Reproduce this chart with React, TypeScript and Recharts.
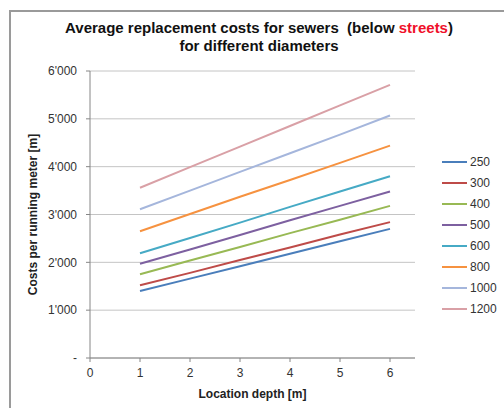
import React from 'react'
import { LineChart, Line, XAxis, YAxis, CartesianGrid, Legend, Label } from 'recharts'

// location depth [m]
const DEPTHS = [1, 2, 3, 4, 5, 6]

// cost per running meter by pipe diameter
const D250 = [1400, 1660, 1920, 2180, 2440, 2700]
const D300 = [1520, 1780, 2050, 2310, 2580, 2840]
const D400 = [1750, 2040, 2320, 2610, 2890, 3180]
const D500 = [1970, 2270, 2570, 2880, 3180, 3480]
const D600 = [2190, 2510, 2830, 3160, 3480, 3800]
const D800 = [2650, 3010, 3370, 3720, 4080, 4440]
const D1000 = [3110, 3500, 3890, 4280, 4670, 5070]
const D1200 = [3560, 3990, 4420, 4850, 5280, 5710]

const X_TICKS = [0, 1, 2, 3, 4, 5, 6]
const Y_TICKS = [0, 1000, 2000, 3000, 4000, 5000, 6000]

const SERIES = [
  { key: 'd250', name: '250', values: D250, color: '#4a7ebb' },
  { key: 'd300', name: '300', values: D300, color: '#be4b48' },
  { key: 'd400', name: '400', values: D400, color: '#98b954' },
  { key: 'd500', name: '500', values: D500, color: '#7d60a0' },
  { key: 'd600', name: '600', values: D600, color: '#46aac5' },
  { key: 'd800', name: '800', values: D800, color: '#f69240' },
  { key: 'd1000', name: '1000', values: D1000, color: '#a5b6dc' },
  { key: 'd1200', name: '1200', values: D1200, color: '#d9a0a6' },
]

const data = DEPTHS.map((depth, i) => {
  const row: Record<string, number> = { depth }
  SERIES.forEach((s) => {
    row[s.key] = s.values[i]
  })
  return row
})

const FONT = 'Arial, "Liberation Sans", sans-serif'
const TICK = { fontSize: 12, fill: '#333', fontFamily: FONT }
const AXIS = '#868686'

const fmtCost = (v: number) => (v === 0 ? '-' : `${v / 1000}'000`)

const seriesIndex = (name: string) => SERIES.findIndex((s) => s.name === name)

function LegendBox({ payload }: any) {
  const items = [...(payload || [])].sort((a: any, b: any) => seriesIndex(a.value) - seriesIndex(b.value))
  return (
    <div style={{ fontFamily: FONT, fontSize: 12, color: '#333' }}>
      {items.map((p: any) => (
        <div key={p.value} style={{ display: 'flex', alignItems: 'center', height: 21 }}>
          <span style={{ display: 'inline-block', width: 25, height: 2, background: p.color, marginRight: 3 }} />
          {p.value}
        </div>
      ))}
    </div>
  )
}

export default function App() {
  return (
    <div
      style={{
        position: 'absolute',
        left: 0,
        top: 0,
        width: 504,
        height: 408,
        background: '#fff',
        overflow: 'hidden',
        fontFamily: FONT,
      }}
    >
      <div
        style={{
          position: 'absolute',
          left: 9,
          top: 10,
          width: 520,
          height: 420,
          borderLeft: '2px solid #9a9a9a',
          borderTop: '2px solid #9a9a9a',
        }}
      />
      <div
        style={{
          position: 'absolute',
          left: 0,
          top: 19,
          width: 518,
          textAlign: 'center',
          fontWeight: 'bold',
          fontSize: 15,
          lineHeight: '18px',
          color: '#111',
          whiteSpace: 'pre',
        }}
      >
        {'Average replacement costs for sewers  (below '}
        <span style={{ color: '#f0102a' }}>streets</span>
        {')'}
        <br />
        {'for different diameters'}
      </div>
      <div style={{ position: 'absolute', left: 0, top: 0 }}>
        <LineChart width={504} height={408} data={data} margin={{ top: 71, right: 89, bottom: 20, left: 0 }}>
          <CartesianGrid vertical={false} stroke="#c4c4c4" />
          <XAxis
            dataKey="depth"
            type="number"
            domain={[0, 6.5]}
            ticks={X_TICKS}
            height={30}
            tick={TICK}
            tickSize={4}
            tickMargin={6}
            stroke={AXIS}
          >
            <Label
              value="Location depth [m]"
              position="insideBottom"
              offset={-10}
              style={{ fontSize: 12, fontWeight: 'bold', fill: '#222', fontFamily: FONT }}
            />
          </XAxis>
          <YAxis
            type="number"
            domain={[0, 6000]}
            ticks={Y_TICKS}
            width={90}
            tick={TICK}
            tickSize={4}
            tickMargin={9}
            tickFormatter={fmtCost}
            stroke={AXIS}
          >
            <Label
              value="Costs per running meter [m]"
              angle={-90}
              position="insideLeft"
              offset={33}
              style={{ textAnchor: 'middle', fontSize: 12, fontWeight: 'bold', fill: '#222', fontFamily: FONT }}
            />
          </YAxis>
          <Legend
            layout="vertical"
            align="center"
            verticalAlign="middle"
            content={<LegendBox />}
            wrapperStyle={{ left: 442, top: 151, width: 62 }}
          />
          {SERIES.map((s) => (
            <Line
              key={s.key}
              type="linear"
              dataKey={s.key}
              name={s.name}
              stroke={s.color}
              strokeWidth={2}
              dot={false}
              isAnimationActive={false}
            />
          ))}
        </LineChart>
      </div>
    </div>
  )
}
